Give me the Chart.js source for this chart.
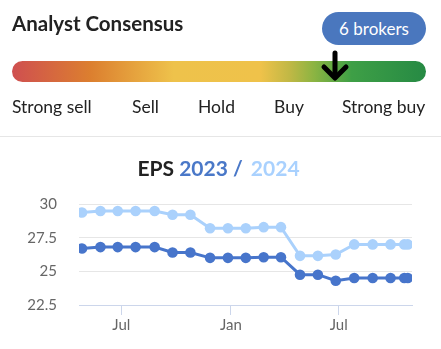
<!DOCTYPE html>
<html>
<head>
<meta charset="utf-8">
<script src="https://cdn.jsdelivr.net/npm/chart.js"></script>
<style>
    html, body {
        margin: 0;
        padding: 0;
        background: #fff;
        width: 441px;
        height: 349px;
        overflow: hidden;
        font-family: Lato, "Noto Sans", sans-serif;
    }
    #epsChart {
        position: absolute;
        left: 0;
        top: 0;
    }
    .abs { position: absolute; white-space: nowrap; }
    #heading {
        left: 12px;
        top: 11px;
        font-size: 20.5px;
        font-weight: bold;
        color: #222;
    }
    #brokers {
        left: 322px;
        top: 12px;
        width: 104px;
        height: 33px;
        border-radius: 17px;
        background: #4a77be;
        color: #fff;
        font-size: 17px;
        line-height: 33px;
        text-align: center;
    }
    #scale {
        left: 12px;
        top: 61px;
        width: 414px;
        height: 21px;
        border-radius: 11px;
        background: linear-gradient(to right, #cf4f50 0%, #dc7f2f 19%, #eec24b 39%, #efc24a 60%, #c1b845 67%, #8bb442 73%, #3e9f46 82%, #268a44 100%);
    }
    #pointer { left: 320px; top: 48px; }
    .rating {
        top: 96px;
        font-size: 17.5px;
        color: #222;
    }
    #divider {
        left: 0;
        top: 136px;
        width: 441px;
        height: 1px;
        background: #e6e6e6;
    }
    #title {
        left: 0;
        top: 155px;
        width: 437px;
        text-align: center;
        font-size: 21px;
        font-weight: bold;
        color: #222;
    }
</style>
</head>
<body>
<canvas id="epsChart" width="441" height="349"></canvas>

<div class="abs" id="heading">Analyst Consensus</div>
<div class="abs" id="brokers">6 brokers</div>
<div class="abs" id="scale"></div>
<svg class="abs" id="pointer" width="30" height="36">
    <polyline points="15,5 15,29" stroke="#000" stroke-width="5" fill="none" stroke-linecap="round"/>
    <polyline points="4,19 15,30 26,19" stroke="#000" stroke-width="5" fill="none" stroke-linecap="round" stroke-linejoin="round"/>
</svg>
<div class="abs rating" style="left:12px">Strong sell</div>
<div class="abs rating" style="left:132px">Sell</div>
<div class="abs rating" style="left:198px">Hold</div>
<div class="abs rating" style="left:274px">Buy</div>
<div class="abs rating" style="left:342px">Strong buy</div>
<div class="abs" id="divider"></div>
<div class="abs" id="title">EPS <span style="color:#4a78c8">2023 /</span> <span style="color:#a9d1fe; margin-left:3px">2024</span></div>

<script>
// estimate dates (roughly monthly revisions)
const dates = ['2022-04-26', '2022-05-27', '2022-06-25', '2022-07-25', '2022-08-26', '2022-09-25',
    '2022-10-25', '2022-11-27', '2022-12-27', '2023-01-26', '2023-02-25', '2023-03-26',
    '2023-04-27', '2023-05-27', '2023-06-26', '2023-07-27', '2023-08-27', '2023-09-26',
    '2023-10-19', '2023-10-25'];

const eps2023 = [26.7, 26.8, 26.8, 26.8, 26.8, 26.4, 26.4, 26.0, 26.0, 26.0, 26.05, 26.05,
    24.75, 24.75, 24.3, 24.5, 24.5, 24.5, 24.5, 24.5];

const eps2024 = [29.37, 29.48, 29.48, 29.48, 29.48, 29.2, 29.2, 28.2, 28.2, 28.2, 28.28, 28.28,
    26.15, 26.15, 26.25, 27.0, 27.0, 27.0, 27.0, 27.0];

const tickDates = ['2022-07-01', '2023-01-01', '2023-07-01'];
const tickLabels = ['Jul', 'Jan', 'Jul'];
const yTicks = [22.5, 25, 27.5, 30];

const darkBlue = '#4775cb';
const lightBlue = '#aad1fc';

function toPoints(values) {
    return values.map((v, i) => ({ x: Date.parse(dates[i]), y: v }));
}

function lineSet(label, values, color) {
    return {
        label: label,
        data: toPoints(values),
        borderColor: color,
        backgroundColor: color,
        borderWidth: 3,
        pointRadius: 5.3,
        pointBorderWidth: 0,
        tension: 0
    };
}

const ctx = document.getElementById('epsChart').getContext('2d');
new Chart(ctx, {
    type: 'line',
    data: {
        datasets: [
            lineSet('2024', eps2024, lightBlue),
            lineSet('2023', eps2023, darkBlue)
        ]
    },
    options: {
        responsive: false,
        animation: false,
        layout: { padding: { top: 204, right: 29, left: 0, bottom: 0 } },
        plugins: {
            legend: { display: false },
            tooltip: { enabled: false }
        },
        scales: {
            x: {
                type: 'linear',
                min: Date.parse('2022-04-21'),
                max: Date.parse('2023-11-01'),
                afterBuildTicks: scale => {
                    scale.ticks = tickDates.map(d => ({ value: Date.parse(d) }));
                },
                afterFit: scale => { scale.height = 44; },
                grid: {
                    drawOnChartArea: false,
                    drawTicks: true,
                    tickLength: 10,
                    color: '#ccd6eb'
                },
                border: { color: '#ccd6eb' },
                ticks: {
                    padding: 1,
                    maxRotation: 0,
                    autoSkip: false,
                    color: '#666',
                    font: { family: 'Lato', size: 15 },
                    callback: (value, index) => tickLabels[index]
                }
            },
            y: {
                min: 22.5,
                max: 30,
                afterBuildTicks: scale => {
                    scale.ticks = yTicks.map(v => ({ value: v }));
                },
                afterFit: scale => { scale.width = 79; },
                border: { display: false },
                grid: {
                    drawTicks: false,
                    color: c => c.tick && c.tick.value === 22.5 ? '#ccd6eb' : '#e6e6e6'
                },
                ticks: {
                    padding: 22,
                    color: '#666',
                    font: { family: 'Lato', size: 15 },
                    callback: v => String(v)
                }
            }
        }
    }
});
</script>
</body>
</html>
